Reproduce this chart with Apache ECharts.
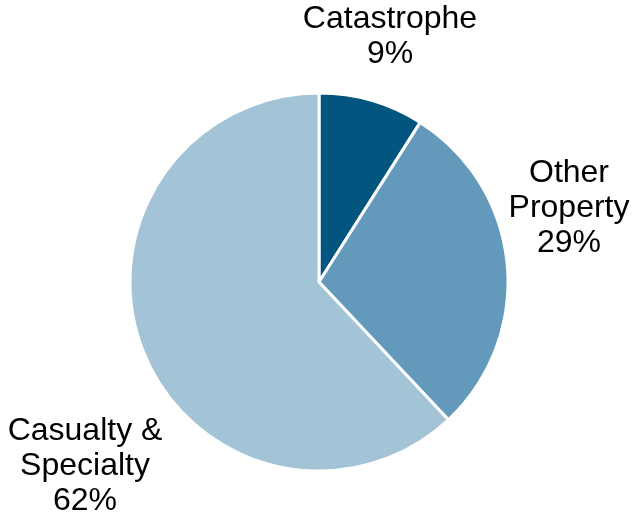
<!DOCTYPE html>
<html>
<head>
<meta charset="utf-8">
<script src="https://cdn.jsdelivr.net/npm/echarts@6/dist/echarts.min.js"></script>
<style>
html,body{margin:0;padding:0;background:#fff;}
#chart{width:633px;height:518px;}
</style>
</head>
<body>
<div id="chart"></div>
<script>
const categories = ['Catastrophe', 'Other\nProperty', 'Casualty &\nSpecialty'];
const values = [9, 29, 62];
const colors = ['#02557F', '#6399BB', '#A3C3D6'];
const labelPos = [[390, 37], [569, 208], [85, 466]];

const chart = echarts.init(document.getElementById('chart'), null, {renderer: 'canvas'});
chart.setOption({
  animation: false,
  series: [{
    type: 'pie',
    center: [319, 282],
    radius: [0, 189],
    startAngle: 90,
    clockwise: true,
    data: categories.map((c, i) => ({name: c, value: values[i], itemStyle: {color: colors[i]}})),
    itemStyle: {borderColor: '#fff', borderWidth: 3},
    label: {
      show: true,
      formatter: p => p.name + '\n' + p.value + '%',
      fontFamily: 'Liberation Sans, Arial, sans-serif',
      fontSize: 32,
      lineHeight: 35,
      color: '#000',
      align: 'center',
      overflow: 'none',
      width: 300
    },
    labelLine: {show: false},
    labelLayout: p => ({x: labelPos[p.dataIndex][0], y: labelPos[p.dataIndex][1], align: 'center', verticalAlign: 'middle', width: 300})
  }]
});
</script>
</body>
</html>
